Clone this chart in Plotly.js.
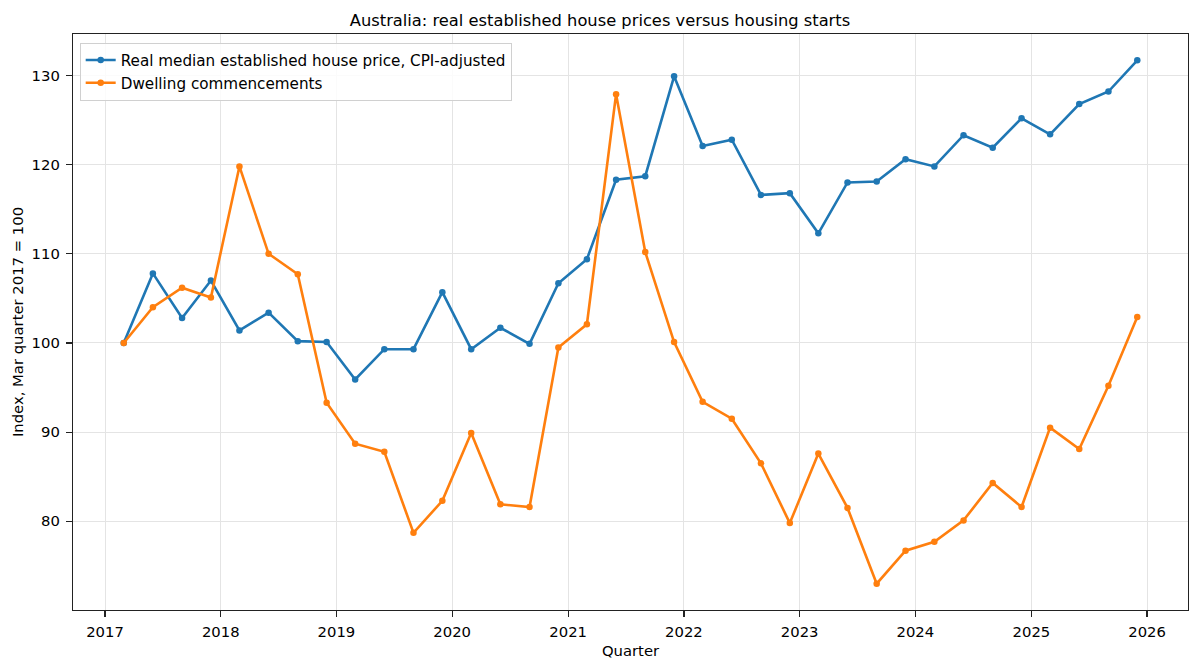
<!DOCTYPE html>
<html>
<head>
<meta charset="utf-8">
<script src="https://cdn.plot.ly/plotly-3.0.1.min.js"></script>
<style>
  html, body { margin: 0; padding: 0; background: #fff; }
  #chart { width: 1200px; height: 670px; }
</style>
</head>
<body>
<div id="chart"></div>
<script>
// Quarter dates (Mar quarter 2017 .. Dec quarter 2025)
const quarters = [
  '2017-03-01', '2017-06-01', '2017-09-01', '2017-12-01',
  '2018-03-01', '2018-06-01', '2018-09-01', '2018-12-01',
  '2019-03-01', '2019-06-01', '2019-09-01', '2019-12-01',
  '2020-03-01', '2020-06-01', '2020-09-01', '2020-12-01',
  '2021-03-01', '2021-06-01', '2021-09-01', '2021-12-01',
  '2022-03-01', '2022-06-01', '2022-09-01', '2022-12-01',
  '2023-03-01', '2023-06-01', '2023-09-01', '2023-12-01',
  '2024-03-01', '2024-06-01', '2024-09-01', '2024-12-01',
  '2025-03-01', '2025-06-01', '2025-09-01', '2025-12-01'
];

// Real median established house price, CPI-adjusted (index)
const housePrice = [
  100.0, 107.8, 102.8, 107.0,
  101.4, 103.4, 100.2, 100.1,
  95.9, 99.3, 99.3, 105.7,
  99.3, 101.7, 99.9, 106.7,
  109.4, 118.3, 118.7, 129.9,
  122.1, 122.8, 116.6, 116.8,
  112.3, 118.0, 118.1, 120.6,
  119.8, 123.3, 121.9, 125.2,
  123.4, 126.8, 128.2, 131.7
];

// Dwelling commencements (index)
const commencements = [
  100.0, 104.0, 106.2, 105.1,
  119.8, 110.0, 107.7, 93.3,
  88.7, 87.8, 78.7, 82.3,
  89.9, 81.9, 81.6, 99.5,
  102.1, 127.9, 110.2, 100.1,
  93.4, 91.5, 86.5, 79.8,
  87.6, 81.5, 73.0, 76.7,
  77.7, 80.1, 84.3, 81.6,
  90.5, 88.1, 95.2, 102.9
];

const yTicks = [80, 90, 100, 110, 120, 130];

const FONT = 'DejaVu Sans, Liberation Sans, sans-serif';
const TXT = 14.8;

function series(name, y, color) {
  return {
    type: 'scatter', mode: 'lines+markers', name,
    x: quarters, y,
    line: { color, width: 2.6 },
    marker: { color, size: 6.5 },
    hoverinfo: 'skip'
  };
}

const data = [
  series('Real median established house price, CPI-adjusted', housePrice, '#1f77b4'),
  series('Dwelling commencements', commencements, '#ff7f0e')
];

const axisCommon = {
  showline: true, linecolor: '#222', linewidth: 1.2, mirror: true,
  ticks: 'outside', ticklen: 6, tickcolor: '#222', tickwidth: 1.2,
  showgrid: true, gridcolor: '#e4e4e4', gridwidth: 1,
  zeroline: false,
  tickfont: { family: FONT, size: TXT, color: '#000' }
};

const layout = {
  width: 1200, height: 670,
  paper_bgcolor: '#fff', plot_bgcolor: '#fff',
  margin: { l: 73, r: 12, t: 34, b: 60 },
  font: { family: FONT, color: '#000' },
  title: {
    text: 'Australia: real established house prices versus housing starts',
    font: { family: FONT, size: 16.3, color: '#000' },
    x: 0.5, xanchor: 'center', y: 0.969, yanchor: 'middle'
  },
  xaxis: Object.assign({}, axisCommon, {
    type: 'date',
    range: ['2016-09-22', '2026-05-10'],
    tick0: '2017-01-01', dtick: 'M12', tickformat: '%Y',
    ticklabelstandoff: 2,
    title: { text: 'Quarter', font: { family: FONT, size: TXT, color: '#000' }, standoff: 6 }
  }),
  yaxis: Object.assign({}, axisCommon, {
    range: [70.05, 134.65],
    tickvals: yTicks,
    ticklabelstandoff: 3,
    title: { text: 'Index, Mar quarter 2017 = 100', font: { family: FONT, size: TXT, color: '#000' }, standoff: 4 }
  }),
  legend: {
    x: 0.006, y: 0.985, xanchor: 'left', yanchor: 'top',
    bgcolor: 'rgba(255,255,255,0.85)', bordercolor: '#d0d0d0', borderwidth: 1,
    font: { family: FONT, size: 15.2, color: '#000' },
    tracegroupgap: 0
  },
  showlegend: true
};

Plotly.newPlot('chart', data, layout, { displayModeBar: false, staticPlot: true });
</script>
</body>
</html>
